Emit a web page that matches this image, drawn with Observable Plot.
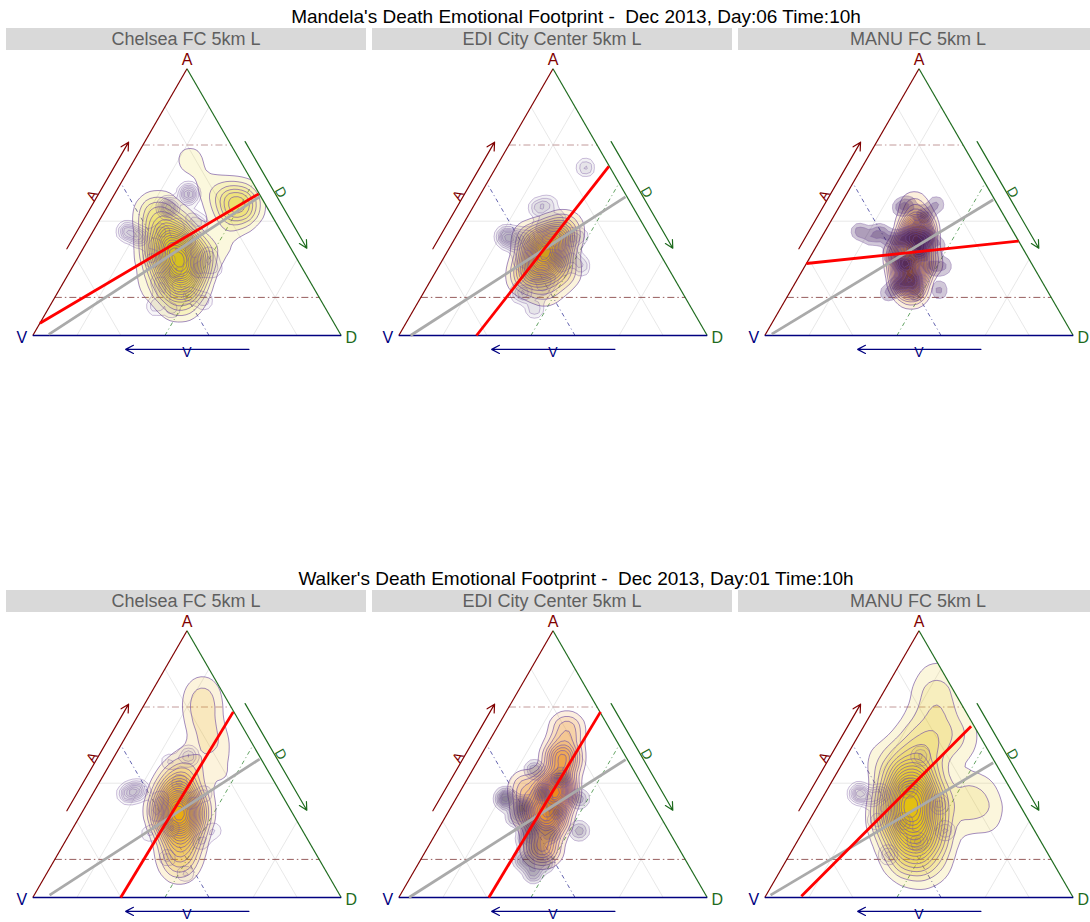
<!DOCTYPE html>
<html><head><meta charset="utf-8">
<script src="https://cdn.jsdelivr.net/npm/d3@7"></script>
<script src="https://cdn.jsdelivr.net/npm/@observablehq/plot@0.6"></script>
<style>
body{margin:0;background:#fff;font-family:"Liberation Sans",Arial,sans-serif;}
#root{position:relative;width:1090px;height:922px;overflow:hidden;}
.title{position:absolute;left:31px;width:1090px;height:19px;line-height:19px;text-align:center;font-size:19px;white-space:pre;color:#000;}
.strip{position:absolute;width:360px;height:22px;background:#d9d9d9;color:#5f5f5f;font-size:18px;line-height:22px;text-align:center;white-space:pre;}
.panel{position:absolute;width:360px;height:310px;}
</style></head><body><div id="root"></div>
<script>
// ---------------- data ----------------
const locations = ["Chelsea FC 5km L", "EDI City Center 5km L", "MANU FC 5km L"];
const eventTitles = [
  "Mandela's Death Emotional Footprint -  Dec 2013, Day:06 Time:10h",
  "Walker's Death Emotional Footprint -  Dec 2013, Day:01 Time:10h"
];
const vertexLabels = ["A", "V", "D"];

// density samples: [A, D, weight]  (V = 1 - A - D)
const mandelaChelseaCore = [[0.27,0.34,6],[0.36,0.28,4],[0.19,0.39,3],[0.32,0.25,2],[0.29,0.39,1.5],[0.45,0.18,2],[0.49,0.42,3],[0.66,0.18,0.6],[0.54,0.31,0.6],[0.36,0.44,0.5],[0.19,0.29,0.6],[0.11,0.42,0.8]];
const mandelaChelseaSpots = [[0.48,0.20,3],[0.53,0.24,3],[0.37,0.16,2],[0.39,0.11,2],[0.39,0.22,1],[0.33,0.29,1],[0.36,0.32,1],[0.25,0.41,1],[0.24,0.34,1],[0.20,0.31,1],[0.15,0.43,1],[0.10,0.40,1],[0.42,0.33,1],[0.29,0.24,1],[0.13,0.49,1],[0.29,0.34,1],[0.16,0.35,1],[0.44,0.29,1],[0.30,0.42,1],[0.11,0.34,1],[0.25,0.46,1]];
const mandelaEdiCore = [[0.31,0.32,6],[0.26,0.32,3],[0.36,0.33,3],[0.22,0.30,1.5],[0.40,0.34,1.2],[0.36,0.25,1.5],[0.24,0.41,1.5],[0.17,0.39,1]];
const mandelaEdiSpots = [[0.37,0.16,2],[0.37,0.40,1],[0.26,0.46,1],[0.10,0.39,1],[0.16,0.31,1],[0.16,0.33,1],[0.63,0.29,1],[0.48,0.21,1],[0.37,0.19,1],[0.37,0.23,1],[0.41,0.26,1],[0.43,0.30,1],[0.36,0.37,1],[0.30,0.35,1],[0.32,0.29,1],[0.28,0.26,1],[0.22,0.32,1],[0.21,0.38,1],[0.26,0.40,1],[0.30,0.41,1],[0.17,0.38,1],[0.34,0.21,1],[0.49,0.24,1]];
const mandelaManuCore = [[0.36,0.31,4],[0.23,0.35,4],[0.41,0.29,2],[0.17,0.39,1.5],[0.30,0.30,2],[0.27,0.38,1.5],[0.49,0.24,0.6]];
const mandelaManuSpots = [[0.39,0.11,1],[0.37,0.16,1],[0.39,0.18,1],[0.48,0.20,1],[0.26,0.45,1],[0.17,0.48,1],[0.16,0.32,1],[0.49,0.31,1],[0.37,0.30,3],[0.32,0.34,3],[0.27,0.32,3],[0.21,0.37,2],[0.36,0.26,1.5],[0.37,0.34,1.5],[0.45,0.29,1.5],[0.30,0.26,1],[0.26,0.41,1],[0.19,0.34,1.5],[0.16,0.41,1],[0.49,0.22,1],[0.34,0.39,1],[0.36,0.22,1]];
const walkerChelseaCore = [[0.31,0.32,6],[0.40,0.27,3.5],[0.22,0.37,3],[0.13,0.41,1.5],[0.32,0.27,1.5],[0.32,0.37,1.2],[0.49,0.25,1],[0.62,0.25,0.6],[0.68,0.21,0.5],[0.74,0.18,0.8],[0.56,0.31,0.6],[0.45,0.39,0.4],[0.80,0.15,0.3]];
const walkerChelseaSpots = [[0.40,0.14,3],[0.39,0.11,2],[0.53,0.24,2],[0.25,0.46,1],[0.51,0.19,1],[0.37,0.23,1],[0.26,0.32,1],[0.36,0.33,1],[0.15,0.36,1],[0.09,0.45,1],[0.21,0.44,1],[0.24,0.26,1],[0.39,0.36,1],[0.43,0.26,1],[0.32,0.24,1]];
const walkerEdiCore = [[0.40,0.31,5],[0.52,0.27,2.5],[0.63,0.23,1],[0.30,0.34,3],[0.19,0.37,2],[0.32,0.27,1.5],[0.41,0.21,1]];
const walkerEdiSpots = [[0.37,0.16,2],[0.48,0.20,1],[0.37,0.40,1],[0.25,0.46,1],[0.14,0.33,1],[0.14,0.36,1],[0.09,0.39,1],[0.34,0.23,2],[0.26,0.30,2],[0.30,0.23,1],[0.39,0.27,1],[0.19,0.35,1],[0.13,0.41,1],[0.32,0.35,1],[0.45,0.30,1],[0.22,0.30,1],[0.24,0.37,1]];
const walkerManuCore = [[0.35,0.30,6],[0.45,0.25,3],[0.24,0.36,3],[0.15,0.40,1.5],[0.58,0.22,1.5],[0.73,0.19,1],[0.84,0.14,0.4],[0.60,0.32,0.8],[0.36,0.42,0.6],[0.39,0.49,0.6],[0.30,0.56,0.5],[0.30,0.26,1],[0.24,0.42,1],[0.11,0.49,0.4],[0.51,0.13,0.5]];
const walkerManuSpots = [[0.39,0.11,2],[0.37,0.16,1],[0.39,0.18,1],[0.53,0.24,1],[0.25,0.46,1],[0.35,0.39,1],[0.29,0.22,1],[0.16,0.32,1],[0.28,0.31,1],[0.21,0.39,1],[0.41,0.26,1]];

// regression lines: [A1, D1, A2, D2]
const redLines = [[0.046,0,0.531,0.467],[0,0.252,0.634,0.364],[0.27,0,0.354,0.646],[0,0.285,0.696,0.302],[0,0.292,0.696,0.306],[0.005,0.116,0.642,0.348]];
const greyLines = [[0.004,0.05,0.521,0.476],[0,0.038,0.52,0.475],[0.005,0.02,0.509,0.486],[0.009,0.05,0.519,0.476],[0,0.033,0.517,0.477],[0.009,0.014,0.505,0.488]];

const gridBreaks = [1/7, 3/7, 5/7];
const arrowRange = [0.325, 0.725];

// ---------------- styles ----------------
const panelsData = [
  [mandelaChelseaCore, mandelaChelseaSpots], [mandelaEdiCore, mandelaEdiSpots], [mandelaManuCore, mandelaManuSpots],
  [walkerChelseaCore, walkerChelseaSpots], [walkerEdiCore, walkerEdiSpots], [walkerManuCore, walkerManuSpots]
];
const panelStyle = [
  {fill:"#e6cc10", bw:12, jFill:"#5b4a70", jOp:0.05},
  {fill:"#e2aa08", bw:10, jFill:"#5b4a70", jOp:0.08},
  {fill:"#ea8c0a", bw:8,  jFill:"#40185a", jOp:0.24},
  {fill:"#e8a808", bw:11, jFill:"#5b4a70", jOp:0.05},
  {fill:"#ea8418", bw:9,  jFill:"#3e3250", jOp:0.12},
  {fill:"#e4bc08", bw:15, jFill:"#5b4a70", jOp:0.04}
];
const colA = "#800000", colD = "#1e6b1e", colV = "#000080";
const contourStroke = "#7d5ca6";

const cx = (a, d) => d + a / 2;
const root = document.getElementById("root");
const rowTop = [0, 562];
const colLeft = [6, 372, 738];

function addDiv(cls, text, left, top) {
  const el = document.createElement("div");
  el.className = cls; el.textContent = text;
  if (left != null) el.style.left = left + "px";
  el.style.top = top + "px";
  root.appendChild(el);
  return el;
}

function segs(list) { return list.map(([a1, d1, a2, d2]) => ({a1, d1, a2, d2})); }
const ends = {x1: s => cx(s.a1, s.d1), y1: s => s.a1, x2: s => cx(s.a2, s.d2), y2: s => s.a2};
const link = (data, opts) => Plot.link(data, {...ends, ...opts});
const label = (a, d, txt, opts) => Plot.text([{a, d}], {x: p => cx(p.a, p.d), y: p => p.a, text: () => txt, ...opts});

function panel(row, col) {
  const k = row * 3 + col;
  const [core, spots] = panelsData[k];
  const st = panelStyle[k];
  const [b1, b3, b5] = gridBreaks;
  const gridA = (f) => [f, 0, f, 1 - f];
  const gridD = (f) => [0, f, 1 - f, f];
  const gridV = (f) => [0, 1 - f, 1 - f, 0];
  const greyGrid = segs([gridA(b3), gridD(b1), gridD(b5), gridV(b1), gridV(b5)]);
  const [lo, hi] = arrowRange, off = 0.052;
  const arrowA = segs([[lo, -off, hi, -off]]);
  const arrowD = segs([[1 + off - lo, lo, 1 + off - hi, hi]]);
  const arrowV = segs([[-off, 1 + off - lo, -off, 1 + off - hi]]);
  const arrowOpts = {...ends, strokeWidth: 1.2, headLength: 11, headAngle: 55};
  const plot = Plot.plot({
    width: 360, height: 310,
    x: {domain: [0, 1], range: [26.3, 334.7], axis: null},
    y: {domain: [0, 1], range: [285, 18.3], axis: null},
    style: {background: "transparent", overflow: "visible", fontFamily: "Liberation Sans, Arial, sans-serif"},
    marks: [
      link(greyGrid, {stroke: "#e2e2e2", strokeWidth: 0.8}),
      link(segs([gridA(b5)]), {stroke: "#c29a9a", strokeWidth: 1, strokeDasharray: "7,3,1.5,3"}),
      link(segs([gridA(b1)]), {stroke: "#8b4a4a", strokeWidth: 0.9, strokeDasharray: "7,3,1.5,3"}),
      link(segs([gridD(b3)]), {stroke: "#3a8a3a", strokeWidth: 0.8, strokeDasharray: "4,3,1,3"}),
      link(segs([gridV(b3)]), {stroke: "#3b3b9b", strokeWidth: 0.8, strokeDasharray: "4,3,1,3"}),
      Plot.density(core, {x: d => cx(d[0], d[1]), y: d => d[0], weight: d => d[2], bandwidth: st.bw, thresholds: 20,
        fill: st.fill, fillOpacity: 0.14, stroke: contourStroke, strokeWidth: 0.7, strokeOpacity: 1}),
      Plot.density(spots, {x: d => cx(d[0], d[1]), y: d => d[0], weight: d => d[2], bandwidth: 4.5, thresholds: 8,
        fill: st.jFill, fillOpacity: st.jOp, stroke: contourStroke, strokeWidth: 0.5, strokeOpacity: 0.8}),
      link(segs([[0, 0, 1, 0]]), {stroke: colA, strokeWidth: 1.2}),
      link(segs([[1, 0, 0, 1]]), {stroke: colD, strokeWidth: 1.2}),
      link(segs([[0, 0, 0, 1]]), {stroke: colV, strokeWidth: 1.4}),
      link(segs([greyLines[k]]), {stroke: "#aaaaaa", strokeWidth: 2.8}),
      link(segs([redLines[k]]), {stroke: "#ff0000", strokeWidth: 2.8}),
      Plot.arrow(arrowA, {...arrowOpts, stroke: colA}),
      Plot.arrow(arrowD, {...arrowOpts, stroke: colD}),
      Plot.arrow(arrowV, {...arrowOpts, stroke: colV}),
      label(0.525, -0.07, vertexLabels[0], {rotate: -60, fill: colA, fontSize: 14}),
      label(0.537, 0.535, vertexLabels[2], {rotate: 60, fill: colD, fontSize: 14}),
      label(-0.064, 0.532, vertexLabels[1], {fill: colV, fontSize: 14}),
      label(1, 0, vertexLabels[0], {dy: -9, fill: colA, fontSize: 16}),
      label(0, 0, vertexLabels[1], {dx: -11, dy: 2, fill: colV, fontSize: 16}),
      label(0, 1, vertexLabels[2], {dx: 10, dy: 2, fill: colD, fontSize: 16})
    ]
  });
  // clip the density layers to the triangle
  const xs = plot.scale("x"), ys = plot.scale("y");
  const pts = [[0, 0], [1, 0], [0.5, 1]].map(([x, y]) => [xs.apply(x), ys.apply(y)]);
  const id = "tri" + k;
  const sel = d3.select(plot);
  sel.insert("defs", ":first-child").append("clipPath").attr("id", id)
    .append("polygon").attr("points", pts.map(p => p.join(",")).join(" "));
  sel.selectAll('g[aria-label="density"]').attr("clip-path", `url(#${id})`);
  const wrap = document.createElement("div");
  wrap.className = "panel";
  wrap.style.left = colLeft[col] + "px";
  wrap.style.top = (rowTop[row] + 50) + "px";
  wrap.appendChild(plot);
  root.appendChild(wrap);
}

for (let r = 0; r < 2; r++) {
  addDiv("title", eventTitles[r], null, rowTop[r] + 7);
  for (let c = 0; c < 3; c++) {
    addDiv("strip", locations[c], colLeft[c], rowTop[r] + 28);
    panel(r, c);
  }
}
</script></body></html>
